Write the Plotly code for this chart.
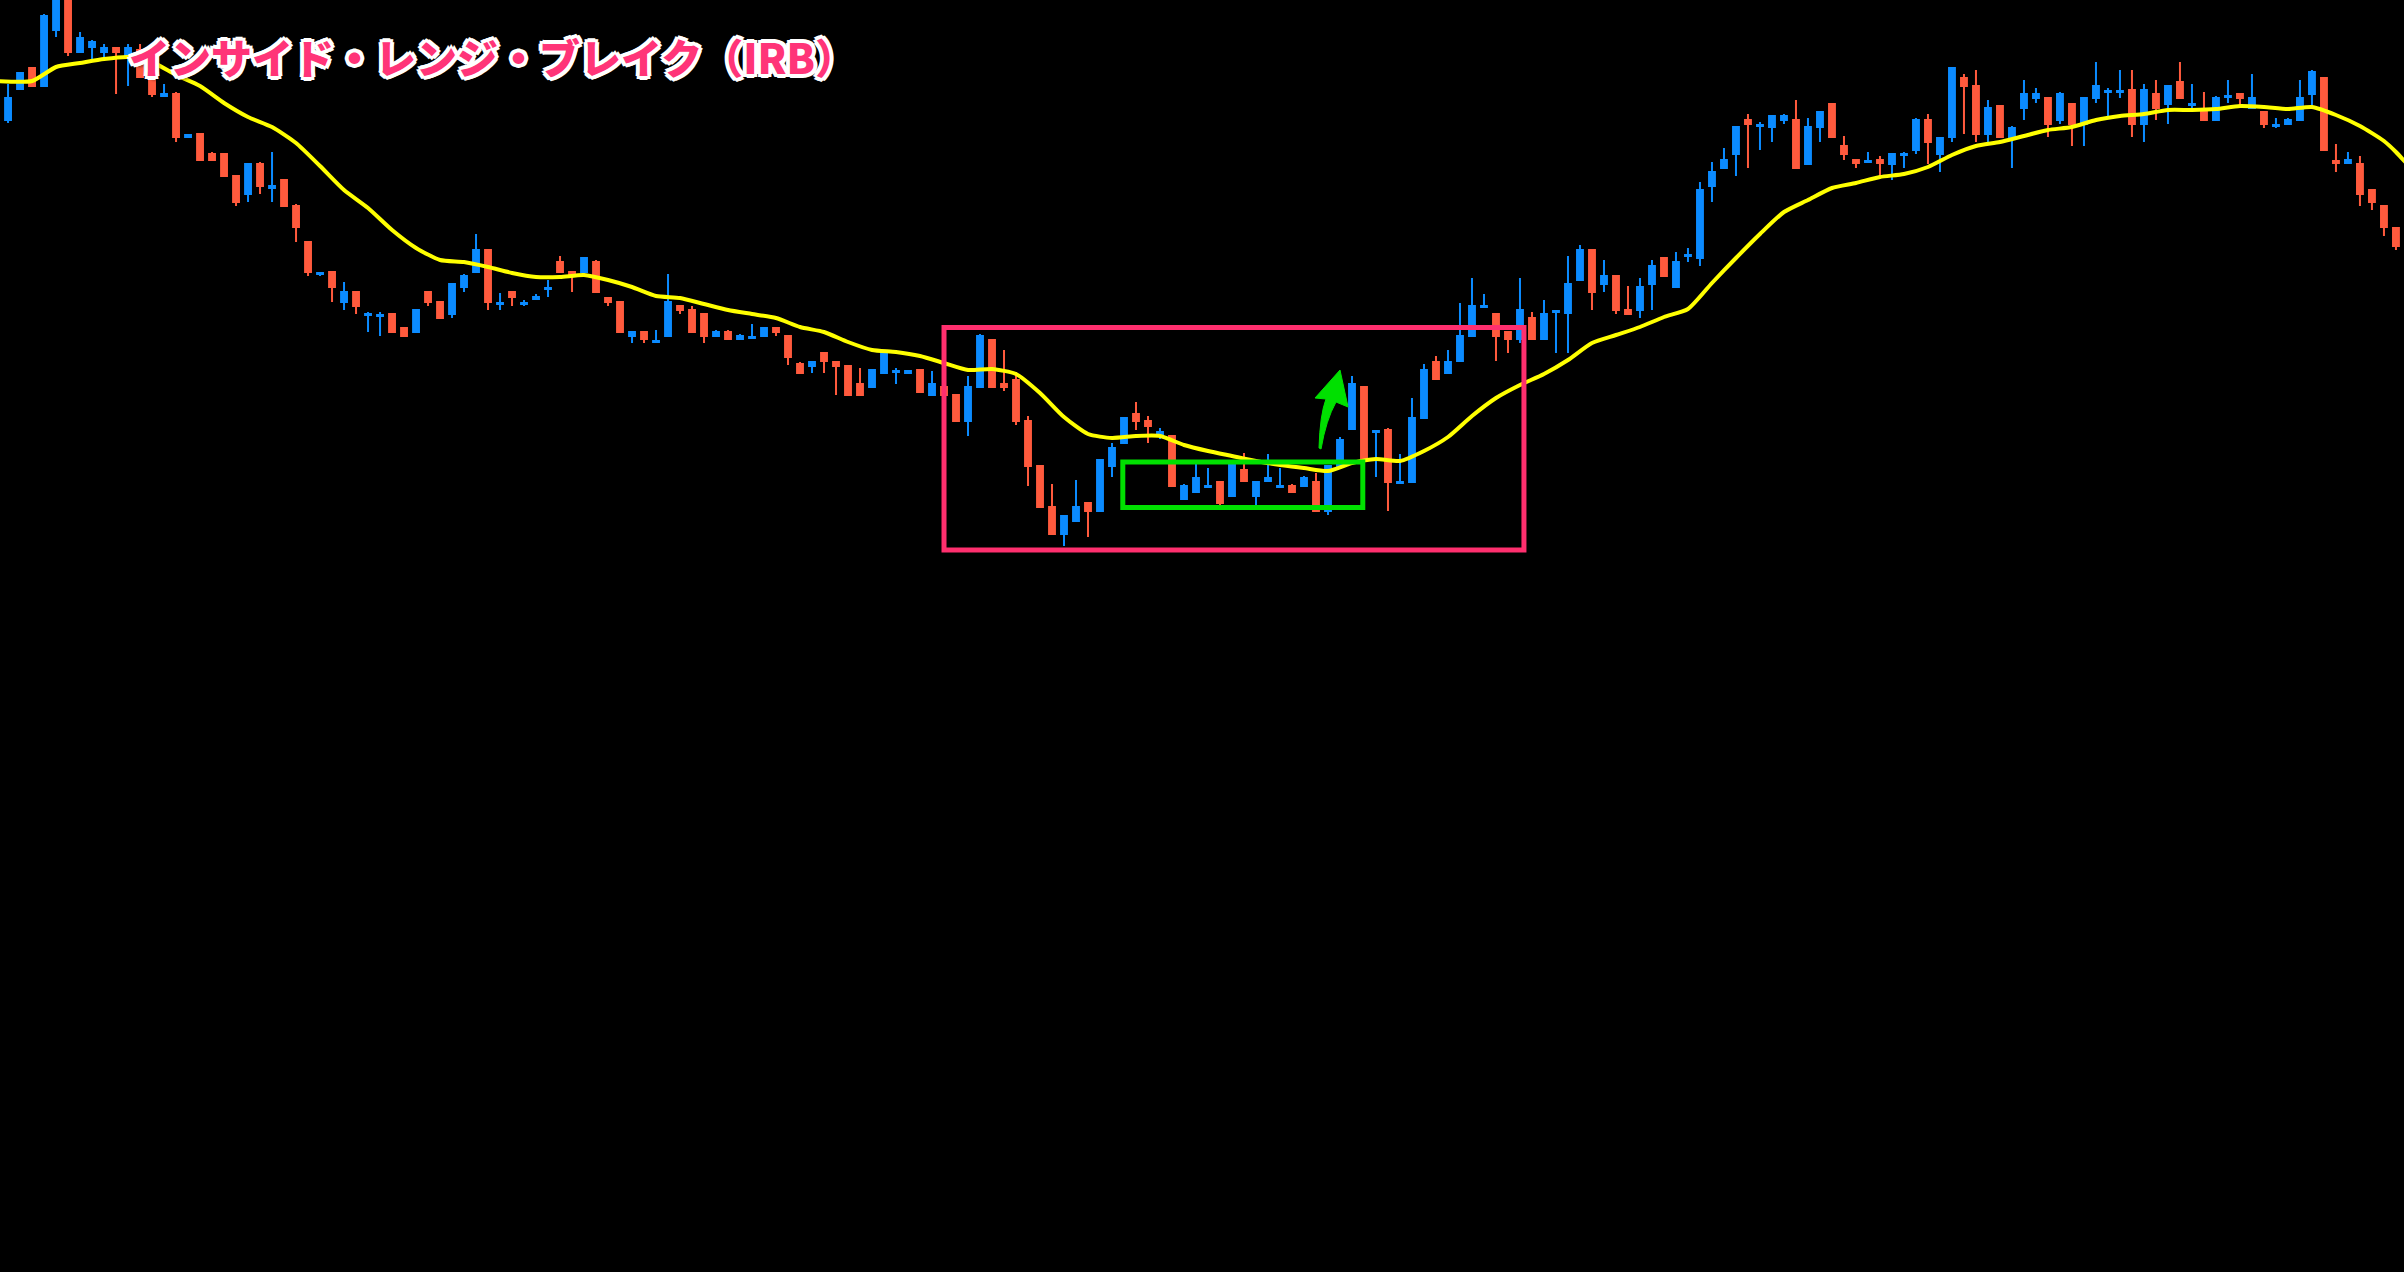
import plotly.graph_objects as go

# ---- candle data (price units) ----
opens = [1880,1911,1932,1914,1970,2002,1948,1953,1948,1952,1945,1950,1923,1904,1906,1863,1866,1846,1846,1824,
         1806,1836,1812,1820,1794,1758,1726,1728,1698,1708,1685,1684,1686,1672,1668,1708,1698,1686,1713,1728,
         1750,1696,1708,1696,1701,1711,1738,1728,1728,1738,1702,1698,1664,1668,1658,1664,1694,1690,1686,1664,
         1668,1661,1662,1664,1672,1664,1636,1634,1647,1638,1634,1616,1613,1627,1628,1627,1630,1605,1613,1605,
         1579,1613,1660,1616,1620,1579,1534,1493,1466,1479,1497,1489,1534,1557,1586,1579,1564,1564,1501,1508,
         1513,1518,1504,1530,1504,1519,1513,1514,1514,1518,1489,1534,1571,1613,1568,1570,1517,1518,1582,1638,
         1627,1639,1664,1693,1686,1668,1661,1682,1661,1688,1687,1720,1750,1716,1724,1690,1690,1716,1742,1713,
         1744,1742,1814,1832,1846,1880,1874,1873,1880,1880,1836,1873,1896,1854,1840,1838,1840,1836,1845,1850,
         1880,1846,1863,1922,1914,1866,1894,1862,1892,1902,1902,1880,1896,1876,1902,1908,1908,1910,1876,1906,
         1896,1918,1895,1888,1880,1903,1906,1892,1888,1874,1876,1880,1906,1922,1839,1837,1836,1810,1794,1772]
highs = [1916,1928,1933,1986,2010,2012,1968,1960,1956,1952,1956,1956,1925,1916,1908,1865,1866,1848,1846,1824,
         1836,1838,1848,1820,1796,1758,1727,1728,1718,1708,1688,1688,1686,1672,1690,1708,1698,1716,1726,1766,
         1750,1707,1708,1700,1706,1720,1744,1728,1742,1740,1702,1698,1668,1668,1670,1726,1694,1694,1686,1670,
         1670,1666,1676,1672,1672,1664,1638,1638,1647,1638,1634,1632,1630,1647,1632,1629,1630,1629,1613,1605,
         1624,1666,1660,1650,1628,1584,1534,1516,1484,1520,1498,1540,1557,1582,1598,1584,1572,1564,1516,1536,
         1532,1518,1536,1547,1518,1546,1532,1516,1524,1527,1534,1563,1624,1613,1569,1572,1546,1602,1636,1644,
         1650,1697,1722,1706,1686,1668,1722,1688,1700,1689,1744,1755,1750,1740,1724,1714,1722,1740,1742,1748,
         1752,1818,1838,1852,1874,1886,1878,1884,1886,1900,1882,1888,1896,1864,1840,1848,1844,1846,1848,1882,
         1886,1862,1932,1926,1930,1900,1895,1874,1920,1912,1902,1908,1896,1902,1938,1912,1930,1930,1916,1920,
         1914,1938,1916,1908,1904,1920,1906,1926,1888,1882,1882,1920,1930,1922,1856,1848,1844,1810,1794,1772]
lows = [1877,1910,1914,1914,1963,1944,1948,1941,1942,1906,1914,1923,1903,1903,1858,1862,1840,1840,1824,1794,
        1798,1806,1798,1794,1758,1724,1724,1698,1690,1686,1668,1664,1668,1664,1668,1694,1682,1682,1708,1728,
        1690,1690,1694,1694,1701,1703,1728,1708,1728,1708,1694,1668,1657,1657,1657,1664,1686,1668,1657,1664,
        1661,1661,1661,1664,1664,1635,1627,1627,1627,1605,1605,1605,1613,1627,1616,1627,1608,1605,1605,1579,
        1564,1613,1613,1609,1575,1514,1493,1466,1454,1479,1463,1489,1523,1557,1570,1557,1561,1514,1501,1508,
        1513,1494,1504,1519,1494,1519,1513,1508,1514,1489,1485,1534,1571,1539,1523,1489,1517,1518,1582,1621,
        1627,1639,1664,1693,1639,1647,1657,1661,1661,1647,1647,1720,1690,1708,1686,1686,1682,1690,1724,1713,
        1738,1734,1798,1832,1824,1832,1850,1858,1876,1832,1836,1858,1863,1840,1832,1837,1824,1820,1832,1846,
        1836,1828,1858,1866,1858,1858,1863,1832,1880,1897,1863,1876,1854,1854,1897,1884,1902,1863,1858,1880,
        1876,1902,1892,1880,1880,1897,1892,1892,1872,1872,1876,1880,1892,1850,1828,1837,1794,1790,1764,1750]
closes = [1902,1927,1914,1984,2003,1948,1962,1958,1952,1948,1952,1923,1906,1906,1863,1865,1840,1840,1824,1798,
          1836,1814,1814,1794,1773,1728,1727,1713,1708,1694,1686,1685,1668,1664,1690,1698,1682,1716,1724,1750,
          1698,1697,1703,1697,1703,1712,1728,1724,1742,1708,1698,1668,1668,1661,1659,1698,1690,1668,1664,1668,
          1661,1664,1663,1672,1668,1643,1627,1638,1639,1634,1605,1605,1630,1647,1629,1629,1608,1616,1605,1579,
          1613,1664,1613,1613,1579,1534,1493,1466,1484,1493,1489,1540,1552,1582,1579,1574,1568,1514,1514,1522,
          1514,1497,1536,1519,1518,1522,1514,1508,1522,1489,1534,1560,1616,1539,1569,1518,1518,1582,1630,1621,
          1638,1664,1694,1694,1664,1661,1690,1661,1686,1689,1716,1750,1708,1724,1690,1686,1713,1734,1724,1738,
          1745,1810,1828,1840,1873,1876,1875,1884,1884,1832,1873,1888,1863,1846,1837,1839,1837,1846,1846,1880,
          1858,1862,1932,1914,1866,1892,1863,1872,1906,1906,1876,1906,1876,1902,1914,1909,1909,1876,1910,1892,
          1914,1902,1896,1880,1902,1904,1902,1902,1876,1875,1880,1902,1928,1850,1837,1840,1806,1798,1773,1754]
candle_idx = list(range(len(opens)))

# ---- moving average ----
ma_idx = [-1, 2, 4, 6, 8, 10, 12, 14, 16, 18, 20, 22, 24, 26, 28, 30, 32, 34, 36, 38, 40, 42, 44, 46, 48, 50,
          52, 54, 56, 58, 60, 62, 64, 66, 68, 70, 72, 74, 76, 78, 80, 82, 84, 86, 88, 90, 92, 94, 96, 98, 100,
          102, 104, 106, 108, 110, 112, 114, 116, 118, 120, 122, 124, 126, 128, 130, 132, 134, 136, 138, 140,
          142, 144, 146, 148, 150, 152, 154, 156, 158, 160, 162, 164, 166, 168, 170, 172, 174, 176, 178, 180,
          182, 184, 186, 188, 190, 192, 194, 196, 198, 199, 200]
ma_val = [1919, 1919, 1933, 1937, 1941, 1943, 1938, 1925, 1914, 1897, 1883, 1873, 1857, 1834, 1810, 1792, 1770,
          1752, 1740, 1738, 1733, 1727, 1723, 1723, 1725, 1720, 1713, 1704, 1702, 1696, 1690, 1686, 1682, 1673,
          1668, 1658, 1650, 1648, 1644, 1637, 1630, 1631, 1626, 1607, 1583, 1566, 1562, 1564, 1564, 1555, 1549,
          1544, 1539, 1535, 1532, 1529, 1537, 1541, 1539, 1549, 1563, 1584, 1602, 1615, 1626, 1640, 1657, 1665,
          1673, 1683, 1691, 1717, 1742, 1766, 1788, 1800, 1812, 1817, 1823, 1826, 1833, 1845, 1854, 1858, 1864,
          1870, 1873, 1880, 1884, 1886, 1890, 1890, 1891, 1894, 1893, 1891, 1893, 1885, 1874, 1859, 1848, 1835]

# ---- highlighted zones ----
range_box = dict(start=78.0, end=126.33, top=1672.5, bottom=1450)      # pink
inside_box = dict(start=92.9, end=112.9, top=1538, bottom=1492.5)      # green
title_text = "インサイド・レンジ・ブレイク（IRB）"

BLUE = "#0b8bff"
RED = "#ff5a3d"
PINK = "#ff2f6e"
GREEN = "#00e000"

fig = go.Figure()
fig.add_trace(go.Candlestick(
    x=candle_idx, open=opens, high=highs, low=lows, close=closes,
    increasing=dict(line=dict(color=BLUE, width=2), fillcolor=BLUE),
    decreasing=dict(line=dict(color=RED, width=2), fillcolor=RED),
    hoverinfo="skip", showlegend=False,
))
fig.add_trace(go.Scatter(
    x=ma_idx, y=ma_val, mode="lines",
    line=dict(color="#ffff00", width=4, shape="spline", smoothing=0.6),
    hoverinfo="skip", showlegend=False,
))

fig.add_shape(type="rect", xref="x", yref="y",
              x0=range_box["start"], x1=range_box["end"],
              y0=range_box["bottom"], y1=range_box["top"],
              line=dict(color=PINK, width=5), layer="above")
fig.add_shape(type="rect", xref="x", yref="y",
              x0=inside_box["start"], x1=inside_box["end"],
              y0=inside_box["bottom"], y1=inside_box["top"],
              line=dict(color=GREEN, width=5), layer="above")

# green curved arrow (break-out hint), in data coordinates
arrow_path = ("M 109.25,1552 Q 109.33,1585 109.83,1601 L 108.92,1602 L 111.0,1630 "
              "L 111.67,1593 L 110.67,1598 Q 109.83,1580 109.42,1551 Z")
fig.add_shape(type="path", xref="x", yref="y", path=arrow_path,
              fillcolor=GREEN, line=dict(color=GREEN, width=1), layer="above")

W, H = 2404, 1272
fig.add_annotation(
    text=title_text, xref="paper", yref="paper",
    x=127 / W, y=1 - 56 / H, xanchor="left", yanchor="middle", showarrow=False,
    font=dict(family="Noto Sans CJK JP", size=41, color="#ff3478", weight=900,
              shadow="4px 0 0 #fff, -4px 0 0 #fff, 0 4px 0 #fff, 0 -4px 0 #fff, "
                     "3px 3px 0 #fff, -3px -3px 0 #fff, 3px -3px 0 #fff, -3px 3px 0 #fff, "
                     "4px 4px 3px rgba(0,0,0,0.5)"),
)

fig.update_layout(
    width=W, height=H,
    margin=dict(l=0, r=0, t=0, b=0),
    paper_bgcolor="#000000", plot_bgcolor="#000000",
    showlegend=False,
    xaxis=dict(visible=False, range=[-0.67, 199.67], rangeslider=dict(visible=False), fixedrange=True),
    yaxis=dict(visible=False, range=[728, 2000], fixedrange=True),
    hovermode=False,
)

fig.write_html(
    "out.html",
    config={"displayModeBar": False},
    post_script="document.body.style.margin='0';document.body.style.background='#000';"
                "document.body.style.overflow='hidden';",
)
